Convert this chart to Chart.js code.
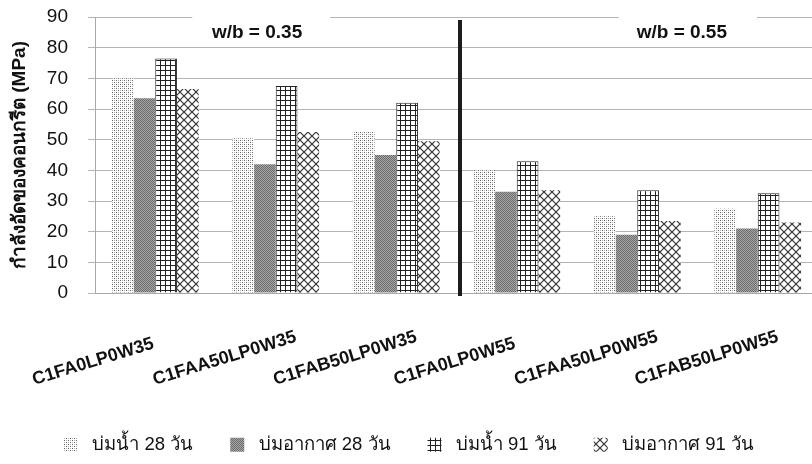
<!DOCTYPE html>
<html lang="th">
<head>
    <meta charset="UTF-8">
    <title>Compressive strength chart</title>
    <style>
        body {
            margin: 0;
            overflow: hidden;
            background: #fff;
            font-family: 'Liberation Sans', Arial, sans-serif;
        }
        #chartBox {
            width: 830px;
            height: 464px;
        }
    </style>
    <script src="https://cdn.jsdelivr.net/npm/chart.js"></script>
</head>
<body>
    <div id="chartBox">
        <canvas id="strengthChart" width="830" height="464"></canvas>
    </div>

    <script>
        // mixes and curing results (MPa)
        const mixes = ['C1FA0LP0W35', 'C1FAA50LP0W35', 'C1FAB50LP0W35', 'C1FA0LP0W55', 'C1FAA50LP0W55', 'C1FAB50LP0W55'];
        const seriesNames = ['บ่มน้ำ 28 วัน', 'บ่มอากาศ 28 วัน', 'บ่มน้ำ 91 วัน', 'บ่มอากาศ 91 วัน'];
        const water28 = [70, 50.5, 52.5, 40, 25, 27.5];
        const air28 = [63.5, 42, 45, 33, 19, 21];
        const water91 = [76.5, 67.5, 62, 43, 33.5, 32.5];
        const air91 = [66.5, 52.5, 49.5, 33.5, 23.5, 23];
        const groupNotes = ['w/b = 0.35', 'w/b = 0.55'];
        const yTitle = 'กำลังอัดของคอนกรีต (MPa)';

        const FONT = "'Liberation Sans', Arial, sans-serif";

        // small tiles used as bar fills
        function makeTile(size, draw) {
            const c = document.createElement('canvas');
            c.width = size;
            c.height = size;
            const g = c.getContext('2d');
            g.fillStyle = '#fff';
            g.fillRect(0, 0, size, size);
            draw(g);
            return c.getContext('2d').createPattern(c, 'repeat');
        }

        const ctx = document.getElementById('strengthChart').getContext('2d');

        const dotFill = makeTile(4, g => {
            g.fillStyle = '#b4b4b4';
            g.fillRect(0, 2, 1, 1);
            g.fillRect(2, 0, 1, 1);
            g.fillStyle = '#5e5e5e';
            g.fillRect(0, 0, 1, 1);
            g.fillRect(2, 2, 1, 1);
        });
        const greyFill = makeTile(2, g => {
            g.fillStyle = '#a6a6a6';
            g.fillRect(0, 0, 2, 2);
            g.fillStyle = '#6c6c6c';
            g.fillRect(0, 0, 1, 1);
            g.fillRect(1, 1, 1, 1);
        });
        const gridFill = makeTile(5, g => {
            g.fillStyle = '#222';
            g.fillRect(0, 0, 5, 1);
            g.fillRect(0, 0, 1, 5);
        });
        const crossFill = makeTile(8, g => {
            g.strokeStyle = '#333';
            g.lineWidth = 1.2;
            g.beginPath();
            g.moveTo(-1, -1); g.lineTo(9, 9);
            g.moveTo(9, -1); g.lineTo(-1, 9);
            g.stroke();
        });

        // thick divider between the two w/b groups + group notes
        const groupMarks = {
            id: 'groupMarks',
            afterDatasetsDraw(chart) {
                const { ctx: c, scales: { x, y } } = chart;
                c.save();
                const lx = x.getPixelForValue(2.5) + 3.5;
                c.strokeStyle = '#1c1c1c';
                c.lineWidth = 4;
                c.beginPath();
                c.moveTo(lx, y.getPixelForValue(89));
                c.lineTo(lx, y.bottom + 3);
                c.stroke();

                const spots = [[0.88, 0.845], [4.42, 4.37]];
                c.font = 'bold 19px ' + FONT;
                c.textAlign = 'center';
                c.textBaseline = 'middle';
                groupNotes.forEach((txt, i) => {
                    const bx = x.getPixelForValue(spots[i][0]);
                    c.fillStyle = '#fff';
                    c.fillRect(bx - 69, y.top - 8, 138, 28);
                    c.fillStyle = '#111';
                    c.fillText(txt, x.getPixelForValue(spots[i][1]), y.top + 16);
                });
                c.restore();
            }
        };

        // slanted category names, anchored at their start like the original
        const slantLabels = {
            id: 'slantLabels',
            afterDraw(chart) {
                const { ctx: c, scales: { x } } = chart;
                c.save();
                c.font = 'bold 18px ' + FONT;
                c.fillStyle = '#111';
                c.textAlign = 'left';
                c.textBaseline = 'alphabetic';
                mixes.forEach((m, i) => {
                    c.save();
                    c.translate(x.getPixelForValue(i) - 121, 385);
                    c.rotate(-17 * Math.PI / 180);
                    c.fillText(m, 0, 0);
                    c.restore();
                });
                c.restore();
            }
        };

        new Chart(ctx, {
            type: 'bar',
            data: {
                labels: mixes,
                datasets: [
                    { label: seriesNames[0], data: water28, backgroundColor: dotFill, borderWidth: 0 },
                    { label: seriesNames[1], data: air28, backgroundColor: greyFill, borderWidth: 0 },
                    { label: seriesNames[2], data: water91, backgroundColor: gridFill, borderColor: '#222', borderWidth: 1 },
                    { label: seriesNames[3], data: air91, backgroundColor: crossFill, borderWidth: 0 }
                ]
            },
            options: {
                responsive: false,
                animation: false,
                layout: { padding: { top: 17, right: 12, left: 0, bottom: 0 } },
                datasets: {
                    bar: { barPercentage: 1, categoryPercentage: 0.72 }
                },
                plugins: {
                    tooltip: { enabled: false },
                    legend: {
                        position: 'bottom',
                        labels: {
                            font: { family: FONT, size: 18.5 },
                            color: '#111',
                            boxWidth: 14,
                            boxHeight: 14,
                            padding: 37,
                            generateLabels(chart) {
                                // extra lead space: the original keeps a wider gap after the swatch
                                return Chart.defaults.plugins.legend.labels.generateLabels(chart)
                                    .map(item => Object.assign(item, { text: ' ' + item.text, lineWidth: 0 }));
                            }
                        }
                    }
                },
                scales: {
                    x: {
                        ticks: { display: false },
                        grid: { display: false },
                        border: { color: '#a8a8a8' },
                        afterFit(s) { s.height = 105.5; }
                    },
                    y: {
                        min: 0,
                        max: 90,
                        ticks: {
                            stepSize: 10,
                            padding: 20,
                            color: '#111',
                            font: { family: FONT, size: 19 }
                        },
                        grid: { color: '#b4b4b4', tickLength: 7 },
                        border: { color: '#a8a8a8' },
                        title: {
                            display: true,
                            text: yTitle,
                            color: '#111',
                            font: { family: FONT, size: 19, weight: 'bold' },
                            padding: { top: 8, bottom: 0 }
                        },
                        afterFit(s) {
                            s.width = 95;
                            // tick padding otherwise pushes the plot top down
                            s.paddingTop = 0;
                            s.paddingBottom = 0;
                        }
                    }
                }
            },
            plugins: [groupMarks, slantLabels]
        });
    </script>
</body>
</html>
